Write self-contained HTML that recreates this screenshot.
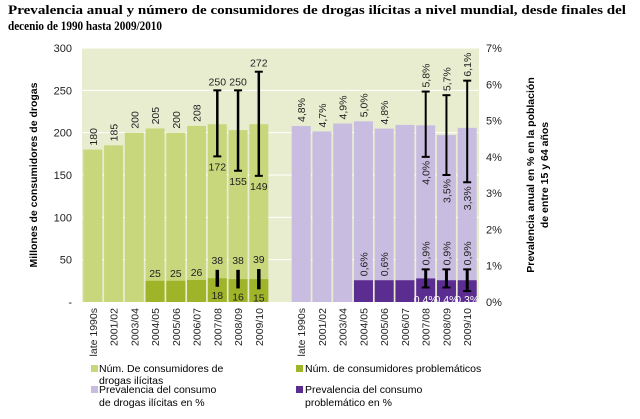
<!DOCTYPE html>
<html><head><meta charset="utf-8"><style>
body{margin:0;background:#fff;}
svg{display:block;font-family:"Liberation Sans",Arial,sans-serif;}
</style></head><body>
<svg id="c" width="640" height="419" viewBox="0 0 640 419">
<text x="8" y="14" font-family="Liberation Serif,serif" font-weight="bold" font-size="13" textLength="618" lengthAdjust="spacingAndGlyphs">Prevalencia anual y número de consumidores de drogas ilícitas a nivel mundial, desde finales del</text>
<text x="8" y="30" font-family="Liberation Serif,serif" font-weight="bold" font-size="13" textLength="154" lengthAdjust="spacingAndGlyphs">decenio de 1990 hasta 2009/2010</text>
<rect x="82" y="48" width="397" height="254" fill="#e9edd0"/>
<g id="grid"></g><g id="marks"></g><g id="labels"></g>
<text transform="translate(37,175) rotate(-90)" text-anchor="middle" font-size="10.5" font-weight="bold">Millones de consumidores de drogas</text>
<text transform="translate(534,175) rotate(-90)" text-anchor="middle" font-size="10.5" font-weight="bold">Prevalencia anual en % en la población</text>
<text transform="translate(548,175) rotate(-90)" text-anchor="middle" font-size="10.5" font-weight="bold">de entre 15 y 64 años</text>
<g font-size="10.5">
<rect x="91" y="365" width="7" height="7" fill="#c8d67c"/>
<text x="99" y="372">Núm. De consumidores de</text>
<text x="99" y="384">drogas ilícitas</text>
<rect x="91" y="386" width="7" height="7" fill="#c8bde0"/>
<text x="99" y="393">Prevalencia del consumo</text>
<text x="99" y="406">de drogas ilícitas en %</text>
<rect x="296" y="365" width="7" height="7" fill="#a0b42a"/>
<text x="305" y="372">Núm. de consumidores problemáticos</text>
<rect x="296" y="386" width="7" height="7" fill="#5b2d91"/>
<text x="305" y="393">Prevalencia del consumo</text>
<text x="305" y="406">problemático en %</text>
</g>
</svg>
<script>
const categories=["late 1990s","2001/02","2003/04","2004/05","2005/06","2006/07","2007/08","2008/09","2009/10"];
const usersVals=[180,185,200,205,200,208,210,203,210];
const usersLabels=["180","185","200","205","200","208",null,null,null];
const usersLow=[null,null,null,null,null,null,172,155,149];
const usersHigh=[null,null,null,null,null,null,250,250,272];
const probVals=[null,null,null,25,25,26,28,27,27];
const probLabels=[null,null,null,"25","25","26",null,null,null];
const probLow=[null,null,null,null,null,null,18,16,15];
const probHigh=[null,null,null,null,null,null,38,38,39];
const prevVals=[4.85,4.7,4.92,4.98,4.78,4.88,4.87,4.6,4.8];
const prevLabels=["4,8%","4,7%","4,9%","5,0%","4,8%",null,null,null,null];
const prevLow=[null,null,null,null,null,null,4.0,3.5,3.3];
const prevHigh=[null,null,null,null,null,null,5.8,5.7,6.1];
const pprobVals=[null,null,null,0.6,0.6,0.6,0.65,0.6,0.6];
const pprobLabels=[null,null,null,"0,6%","0,6%",null,null,null,null];
const pprobLow=[null,null,null,null,null,null,0.4,0.4,0.3];
const pprobHigh=[null,null,null,null,null,null,0.9,0.9,0.9];
const leftTicks=[0,50,100,150,200,250,300];
const rightTicks=[0,1,2,3,4,5,6,7];

const NS="http://www.w3.org/2000/svg";
const y0=302,yTop=48;
const yL=v=>y0-(v/300)*(y0-yTop);
const yR=v=>y0-(v/7)*(y0-yTop);
const xL=i=>83.3+i*20.75;
const xR=i=>291.7+i*20.75;
const bw=19;
const fmt=v=>v.toFixed(1).replace('.',',')+'%';
function mk(tag,attrs,parent,txt){const e=document.createElementNS(NS,tag);for(const k in attrs)e.setAttribute(k,attrs[k]);if(txt!=null)e.textContent=txt;document.getElementById(parent).appendChild(e);return e;}

leftTicks.forEach(t=>{
  if(t>0){const g=mk('line',{x1:82,x2:479,y1:yL(t),y2:yL(t),stroke:'#fff','stroke-width':1},'grid');
  
  }
  const tx=mk('text',{x:72,y:yL(t)+4,'text-anchor':'end','font-size':11,fill:'#222'},'labels',t===0?'-':String(t));
  
  
});
rightTicks.forEach(t=>{
  const tx=mk('text',{x:486,y:yR(t)+4,'font-size':11,fill:'#222'},'labels',t+'%');
  
  
});
function rot(x,y,s,anchor,fill,name){const t=mk('text',{transform:`translate(${x},${y}) rotate(-90)`,'text-anchor':anchor,'font-size':10.5,fill:fill||'#222'},'labels',s);
  
  }
function hor(x,y,s,fill,name){const t=mk('text',{x:x,y:y,'text-anchor':'middle','font-size':10.5,fill:fill||'#222'},'labels',s);
  
  }
function eb(x,lo,hi,cap,w,name){const l=mk('line',{x1:x,x2:x,y1:lo,y2:hi,stroke:'#000','stroke-width':w},'marks');
  
  
  if(cap){mk('line',{x1:x-4,x2:x+4,y1:lo,y2:lo,stroke:'#000','stroke-width':2},'marks');mk('line',{x1:x-4,x2:x+4,y1:hi,y2:hi,stroke:'#000','stroke-width':2},'marks');}}

categories.forEach((c,i)=>{
  const xl=xL(i),xr=xR(i),cl=xl+bw/2,cr=xr+bw/2;
  let b=mk('rect',{x:xl,y:yL(usersVals[i]),width:bw,height:y0-yL(usersVals[i]),fill:'#c8d67c'},'marks');
  
  
  if(probVals[i]!=null){b=mk('rect',{x:xl,y:yL(probVals[i]),width:bw,height:y0-yL(probVals[i]),fill:'#a0b42a'},'marks');
    
    }
  b=mk('rect',{x:xr,y:yR(prevVals[i]),width:bw,height:y0-yR(prevVals[i]),fill:'#c8bde0'},'marks');
  
  
  if(pprobVals[i]!=null){b=mk('rect',{x:xr,y:yR(pprobVals[i]),width:bw,height:y0-yR(pprobVals[i]),fill:'#5b2d91'},'marks');
    
    }
  if(usersLabels[i])rot(cl+4,yL(usersVals[i])-4,usersLabels[i],'start','#222','users-value-label');
  if(probLabels[i])hor(cl,yL(probVals[i])-4,probLabels[i],'#222','problem-users-value-label');
  if(prevLabels[i])rot(cr+4,yR(prevVals[i])-4,prevLabels[i],'start','#222','prevalence-value-label');
  if(pprobLabels[i])rot(cr+4,yR(pprobVals[i])-4,pprobLabels[i],'start','#222','problem-prevalence-value-label');
  if(usersHigh[i]!=null){eb(cl,yL(usersLow[i]),yL(usersHigh[i]),true,2.5,'error-bar-users');
    hor(cl,yL(usersHigh[i])-5,String(usersHigh[i]),'#222','users-high-label');hor(cl,yL(usersLow[i])+14,String(usersLow[i]),'#222','users-low-label');}
  if(probHigh[i]!=null){eb(cl,yL(probLow[i]),yL(probHigh[i]),false,3.5,'error-bar-problem-users');
    hor(cl,yL(probHigh[i])-6,String(probHigh[i]),'#222','problem-high-label');hor(cl,yL(probLow[i])+12,String(probLow[i]),'#222','problem-low-label');}
  if(prevHigh[i]!=null){eb(cr,yR(prevLow[i]),yR(prevHigh[i]),true,2,'error-bar-prevalence');
    rot(cr+4,yR(prevHigh[i])-4,fmt(prevHigh[i]),'start','#222','prevalence-high-label');rot(cr+4,yR(prevLow[i])+4,fmt(prevLow[i]),'end','#222','prevalence-low-label');}
  if(pprobHigh[i]!=null){eb(cr,yR(pprobLow[i]),yR(pprobHigh[i]),true,3,'error-bar-problem-prevalence');
    rot(cr+4,yR(pprobHigh[i])-4,fmt(pprobHigh[i]),'start','#222','problem-prevalence-high-label');hor(cr,y0+1,fmt(pprobLow[i]),'#fff','problem-prevalence-low-label');}
  rot(cl+4,308,c,'end','#222','x-tick-left');
  rot(cr+4,308,c,'end','#222','x-tick-right');
});
</script>
</body></html>
